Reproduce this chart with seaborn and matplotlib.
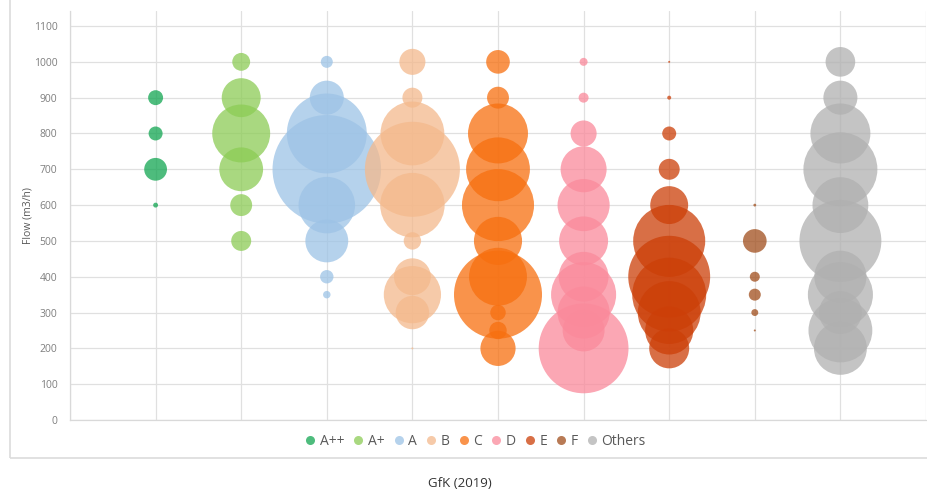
import pandas as pd
import matplotlib.pyplot as plt
import seaborn as sns
from matplotlib.lines import Line2D
from matplotlib.patches import Rectangle

# Clases energéticas y colores
classes = ["A++", "A+", "A", "B", "C", "D", "E", "F", "Others"]
colors = ["#12a652", "#8ccc55", "#9dc3e6", "#f4b98c", "#f76f0f",
          "#fa8a9b", "#cc3f08", "#a04e1c", "#b0b0b0"]

# Caudal (m3/h) y peso (tamaño de burbuja, proporcional al área) por clase
flow_app = [900, 800, 700, 600]
weight_app = [5.6, 4.9, 13, 0.6]

flow_ap = [1000, 900, 800, 700, 600, 500]
weight_ap = [8, 38, 84, 48, 12, 10]

flow_a = [1000, 900, 800, 700, 600, 500, 400, 350]
weight_a = [3.6, 29, 160, 295, 80, 46, 4.5, 1.4]

flow_b = [1000, 900, 800, 700, 600, 500, 400, 350, 300, 200]
weight_b = [17, 10, 102, 226, 104, 7.6, 34, 82, 28, 0.1]

flow_c = [1000, 900, 800, 700, 600, 500, 400, 350, 300, 250, 200]
weight_c = [14, 12, 90, 102, 130, 58, 84, 194, 6, 7.6, 31]

flow_d = [1000, 900, 800, 700, 600, 500, 400, 350, 300, 250, 200]
weight_d = [1.6, 2.5, 17, 53, 68, 60, 62, 106, 68, 44, 202]

flow_e = [1000, 900, 800, 700, 600, 500, 400, 350, 300, 250, 200]
weight_e = [0.1, 0.4, 4.9, 11, 36, 130, 168, 137, 99, 58, 40]

flow_f = [600, 500, 400, 350, 300, 250]
weight_f = [0.2, 14, 2.5, 3.6, 1.2, 0.1]

flow_oth = [1000, 900, 800, 700, 600, 500, 400, 350, 300, 250, 200]
weight_oth = [22, 29, 90, 137, 78, 168, 68, 106, 46, 102, 70]

flows = [flow_app, flow_ap, flow_a, flow_b, flow_c, flow_d, flow_e, flow_f, flow_oth]
weights = [weight_app, weight_ap, weight_a, weight_b, weight_c, weight_d, weight_e, weight_f, weight_oth]

rows = []
for i, cls in enumerate(classes):
    for fl, w in zip(flows[i], weights[i]):
        rows.append({"cls": cls, "pos": i + 1, "flow": fl, "weight": w})
df = pd.DataFrame(rows)

palette = dict(zip(classes, colors))
wmax = df["weight"].max()

sns.set_style("white")
plt.rcParams["font.family"] = ["Open Sans", "DejaVu Sans"]

fig = plt.figure(figsize=(9.28, 4.90), dpi=100)
ax = fig.add_axes([70 / 928, 1 - 420 / 490, 856 / 928, 409 / 490])

sns.scatterplot(data=df, x="pos", y="flow", hue="cls", hue_order=classes,
                palette=palette, size="weight", sizes=(0, 20.7 * wmax),
                size_norm=(0, wmax), alpha=0.75, linewidth=0, legend=False, ax=ax)

ax.set_xlim(0, 10)
ax.set_ylim(0, 1142)
ax.set_xticks(range(0, 11))
ax.set_xticklabels([])
ax.set_yticks(range(0, 1101, 100))
ax.tick_params(axis="both", length=0, labelsize=7.5, labelcolor="#7f7f7f", pad=9)
ax.set_xlabel("")
ax.set_ylabel("Flow (m3/h)", fontsize=7.5, color="#595959", labelpad=0)
ax.grid(True, color="#e0e0e0", linewidth=0.9)
ax.set_axisbelow(True)
for side in ["top", "right"]:
    ax.spines[side].set_visible(False)
for side in ["left", "bottom"]:
    ax.spines[side].set_color("#d9d9d9")
    ax.spines[side].set_linewidth(0.9)

# Leyenda
handles = [Line2D([0], [0], marker="o", linestyle="", markersize=6.5,
                  markerfacecolor=c, markeredgewidth=0, alpha=0.75) for c in colors]
fig.legend(handles, classes, loc="center", bbox_to_anchor=(476 / 928, 1 - 441 / 490),
           ncol=9, frameon=False, fontsize=10, handlelength=0.6, handletextpad=0.4,
           columnspacing=0.7, labelcolor="#595959")

# Marco del gráfico
fig.add_artist(Rectangle((10 / 928, 32 / 490), 1.2, 1.2, transform=fig.transFigure,
                         fill=False, edgecolor="#dcdcdc", linewidth=1.2))

fig.text(460 / 928, 1 - 483 / 490, "GfK (2019)", ha="center", va="center",
         fontsize=9.5, color="#333333")

fig.savefig("out.png", dpi=100)
